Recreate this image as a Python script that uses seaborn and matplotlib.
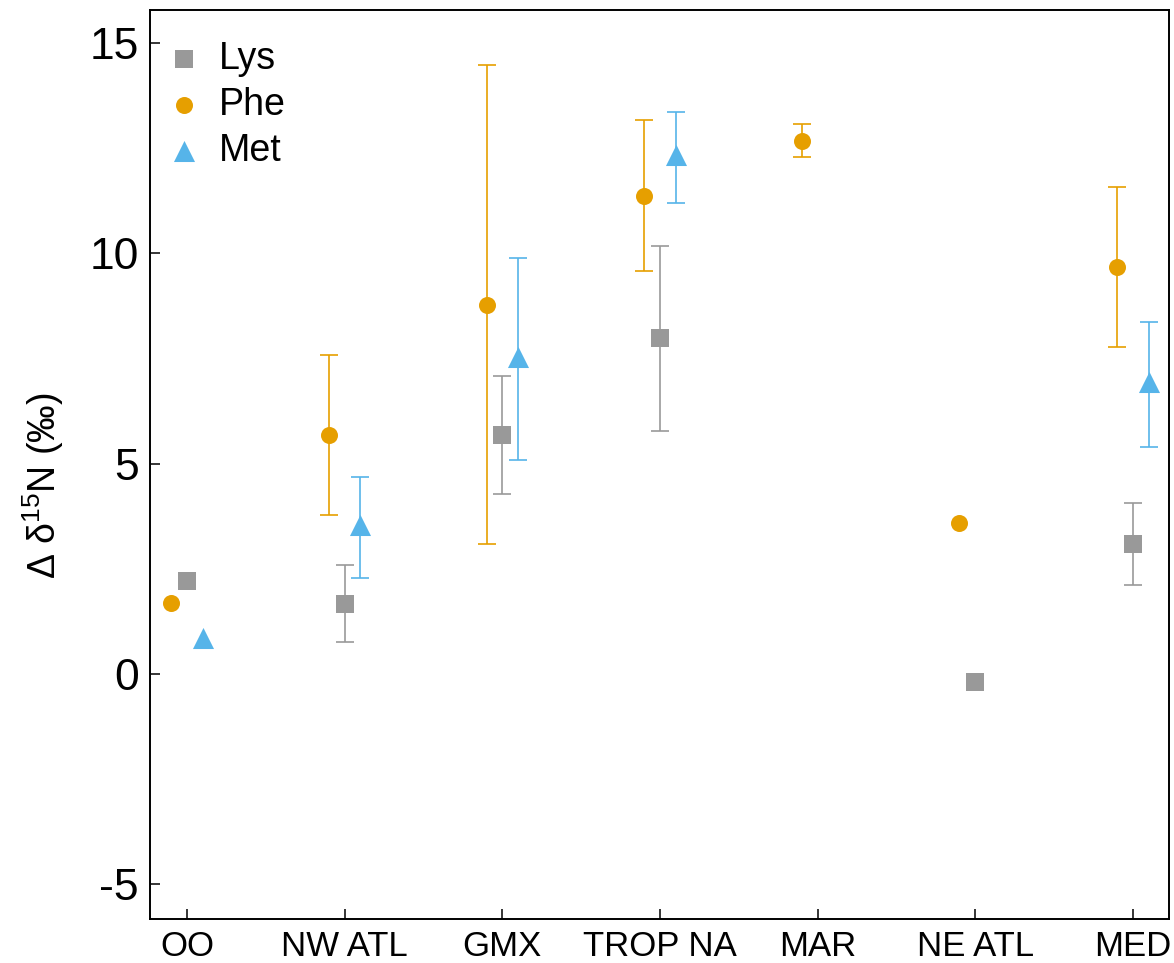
"""Delta d15N by region for three amino acids, mean +/- error."""
import matplotlib
matplotlib.use("Agg")
import matplotlib.pyplot as plt
import numpy as np
import pandas as pd
import seaborn as sns

REGIONS = ["OO", "NW ATL", "GMX", "TROP NA", "MAR", "NE ATL", "MED"]
AMINO_ACIDS = ["Lys", "Phe", "Met"]

# mean, lower and upper bound of the error bar per region (nan = not shown)
lys_mean = [2.2, 1.67, 5.69, 7.99, np.nan, -0.2, 3.1]
lys_lo = [np.nan, 0.77, 4.28, 5.77, np.nan, np.nan, 2.12]
lys_hi = [np.nan, 2.58, 7.08, 10.17, np.nan, np.nan, 4.07]

phe_mean = [1.7, 5.69, 8.77, 11.37, 12.67, 3.6, 9.68]
phe_lo = [np.nan, 3.79, 3.09, 9.58, 12.28, np.nan, 7.78]
phe_hi = [np.nan, 7.59, 14.47, 13.16, 13.07, np.nan, 11.58]

met_mean = [0.86, 3.54, 7.53, 12.34, np.nan, np.nan, 6.95]
met_lo = [np.nan, 2.29, 5.09, 11.2, np.nan, np.nan, 5.4]
met_hi = [np.nan, 4.68, 9.88, 13.36, np.nan, np.nan, 8.37]

COLORS = {"Lys": "#999999", "Phe": "#E69F00", "Met": "#56B4E9"}
MARKERS = {"Lys": "s", "Phe": "o", "Met": "^"}
SIZES = {"Lys": 150, "Phe": 150, "Met": 230}
OFFSETS = {"Lys": 0.0, "Phe": -0.1, "Met": 0.1}

frames = []
for aa, m, lo, hi in [
    ("Lys", lys_mean, lys_lo, lys_hi),
    ("Phe", phe_mean, phe_lo, phe_hi),
    ("Met", met_mean, met_lo, met_hi),
]:
    frames.append(pd.DataFrame({"region": REGIONS, "aa": aa, "mean": m, "lo": lo, "hi": hi}))
df = pd.concat(frames, ignore_index=True).dropna(subset=["mean"])
df["x"] = df["region"].map({r: i for i, r in enumerate(REGIONS)}) + df["aa"].map(OFFSETS)

sns.set_style("ticks")
plt.rcParams["font.family"] = ["Liberation Sans", "DejaVu Sans"]
plt.rcParams["mathtext.fontset"] = "custom"
plt.rcParams["mathtext.rm"] = "Liberation Sans"
plt.rcParams["text.color"] = "black"
plt.rcParams["axes.labelcolor"] = "black"
plt.rcParams["xtick.color"] = "black"
plt.rcParams["ytick.color"] = "black"

fig = plt.figure(figsize=(11.74, 9.63), dpi=100)
ax = fig.add_axes([150 / 1174, 1 - 919 / 963, 1019 / 1174, 909 / 963])

for aa in AMINO_ACIDS:
    sub = df[df["aa"] == aa]
    bars = sub.dropna(subset=["lo", "hi"])
    ax.errorbar(
        bars["x"], bars["mean"],
        yerr=[bars["mean"] - bars["lo"], bars["hi"] - bars["mean"]],
        fmt="none", ecolor=COLORS[aa], elinewidth=1.2, capsize=6.8, capthick=1.2, zorder=2,
    )
    sns.scatterplot(
        data=sub, x="x", y="mean", ax=ax, color=COLORS[aa], marker=MARKERS[aa],
        s=SIZES[aa], linewidth=0, label=aa, zorder=3,
    )

ax.set_xlim(-0.235, 6.23)
ax.set_ylim(-5.82, 15.78)
ax.set_xticks(range(len(REGIONS)))
ax.set_xticklabels(REGIONS)
ax.set_yticks([-5, 0, 5, 10, 15])
ax.set_yticklabels(["-5", "0", "5", "10", "15"])
ax.set_xlabel("")
ax.set_ylabel("Δ δ$^{15}$N (‰)", fontsize=27)
ax.yaxis.set_label_coords(-0.082, 0.477)

ax.tick_params(axis="y", direction="in", length=7, width=1.1, labelsize=32, pad=8)
ax.tick_params(axis="x", direction="in", length=7, width=1.1, labelsize=25, pad=8)
for sp in ax.spines.values():
    sp.set_visible(True)
    sp.set_linewidth(1.4)
    sp.set_color("black")

ax.legend(
    loc="upper left", bbox_to_anchor=(0.015, 0.966), frameon=False, fontsize=27,
    handlelength=1.0, handletextpad=0.42, labelspacing=0.27, borderpad=0, borderaxespad=0,
)

fig.savefig("out.png", dpi=100)
plt.close(fig)
